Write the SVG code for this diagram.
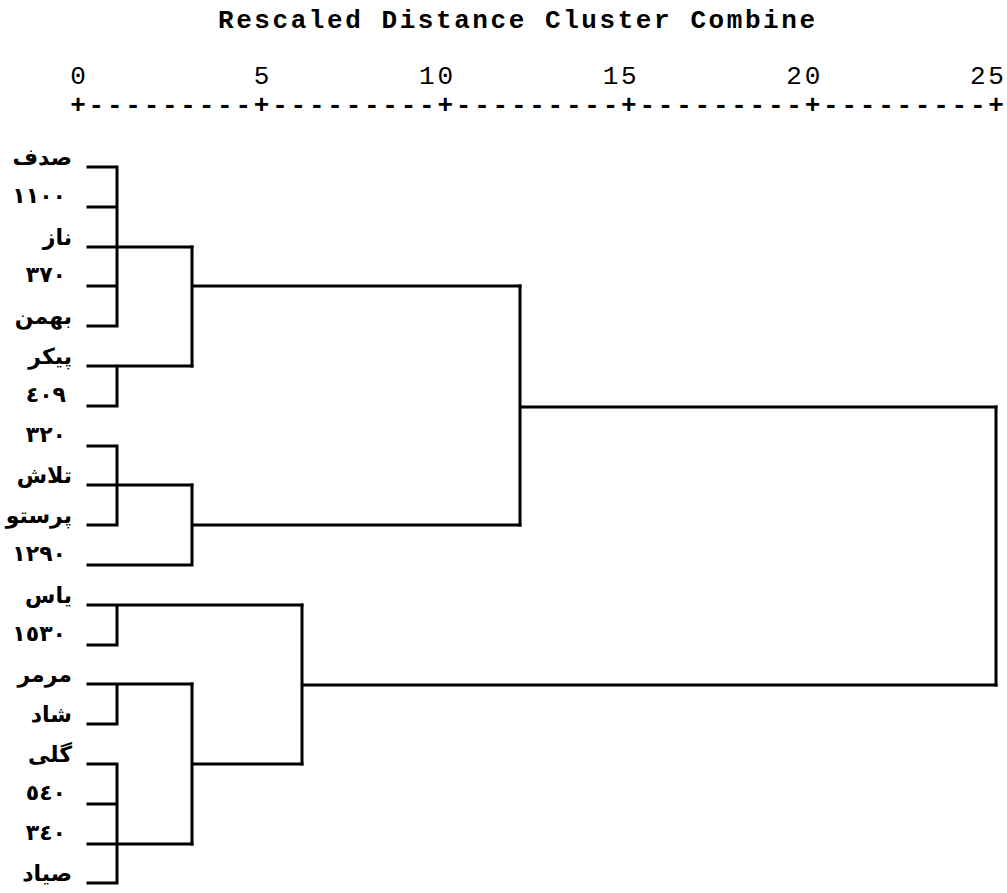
<svg xmlns="http://www.w3.org/2000/svg" width="1007" height="893" viewBox="0 0 1007 893">
<style>
.lbl{font-family:"DejaVu Sans","Noto Sans",sans-serif;font-size:22px;font-weight:bold;fill:#000;text-anchor:end}
.num{letter-spacing:2px}
.mono{font-family:"Liberation Mono","DejaVu Sans Mono",monospace;fill:#000}
.c{fill:none;stroke:#000;stroke-width:3;stroke-linecap:square}
</style>
<rect width="1007" height="893" fill="#fff"/>
<g id="title"><text class="mono" x="218" y="28" font-size="26" font-weight="bold" textLength="597" lengthAdjust="spacing">Rescaled Distance Cluster Combine</text></g>
<g id="axis">
<text class="mono" x="70.2" y="84" font-size="26" letter-spacing="2.76" xml:space="preserve">0         5        10        15        20        25</text>
<text class="mono" x="70.2" y="113" font-size="26" font-weight="bold" letter-spacing="2.76">+---------+---------+---------+---------+---------+</text>
</g>
<g id="leaves">
<g id="n0"><text class="lbl" x="72" y="165">صدف</text></g>
<g id="n1"><text class="lbl num" x="66" y="203">١١٠٠</text></g>
<g id="n2"><text class="lbl" x="72" y="245">ناز</text></g>
<g id="n3"><text class="lbl num" x="66" y="282">٣٧٠</text></g>
<g id="n4"><text class="lbl" x="72" y="324">بهمن</text></g>
<g id="n5"><text class="lbl" x="72" y="364">پیکر</text></g>
<g id="n6"><text class="lbl num" x="66" y="402">٤٠٩</text></g>
<g id="n7"><text class="lbl num" x="66" y="442">٣٢٠</text></g>
<g id="n8"><text class="lbl" x="72" y="483">تلاش</text></g>
<g id="n9"><text class="lbl" x="72" y="523">پرستو</text></g>
<g id="n10"><text class="lbl num" x="66" y="561">١٢٩٠</text></g>
<g id="n11"><text class="lbl" x="72" y="603">یاس</text></g>
<g id="n12"><text class="lbl num" x="66" y="641">١٥٣٠</text></g>
<g id="n13"><text class="lbl" x="72" y="682">مرمر</text></g>
<g id="n14"><text class="lbl" x="72" y="722">شاد</text></g>
<g id="n15"><text class="lbl" x="72" y="762">گلی</text></g>
<g id="n16"><text class="lbl num" x="66" y="800">٥٤٠</text></g>
<g id="n17"><text class="lbl num" x="66" y="840">٣٤٠</text></g>
<g id="n18"><text class="lbl" x="72" y="881">صیاد</text></g>
</g>
<g id="connectors">
<path class="c" d="M88 167H117M88 207H117M88 247H192M88 286H117M88 326H117M117 167V326"/>
<path class="c" d="M88 366H192M88 406H117M117 366V406"/>
<path class="c" d="M192 247V366M192 286H520"/>
<path class="c" d="M88 446H117M88 485H192M88 525H117M117 446V525"/>
<path class="c" d="M88 565H192M192 485V565M192 525H520"/>
<path class="c" d="M520 286V525M520 407H996"/>
<path class="c" d="M88 605H302M88 645H117M117 605V645"/>
<path class="c" d="M88 684H192M88 724H117M117 684V724"/>
<path class="c" d="M88 764H117M88 804H117M88 844H192M88 883H117M117 764V883"/>
<path class="c" d="M192 684V844M192 764H302"/>
<path class="c" d="M302 605V764M302 685H996"/>
<path class="c" d="M996 407V685"/>
</g>
</svg>
